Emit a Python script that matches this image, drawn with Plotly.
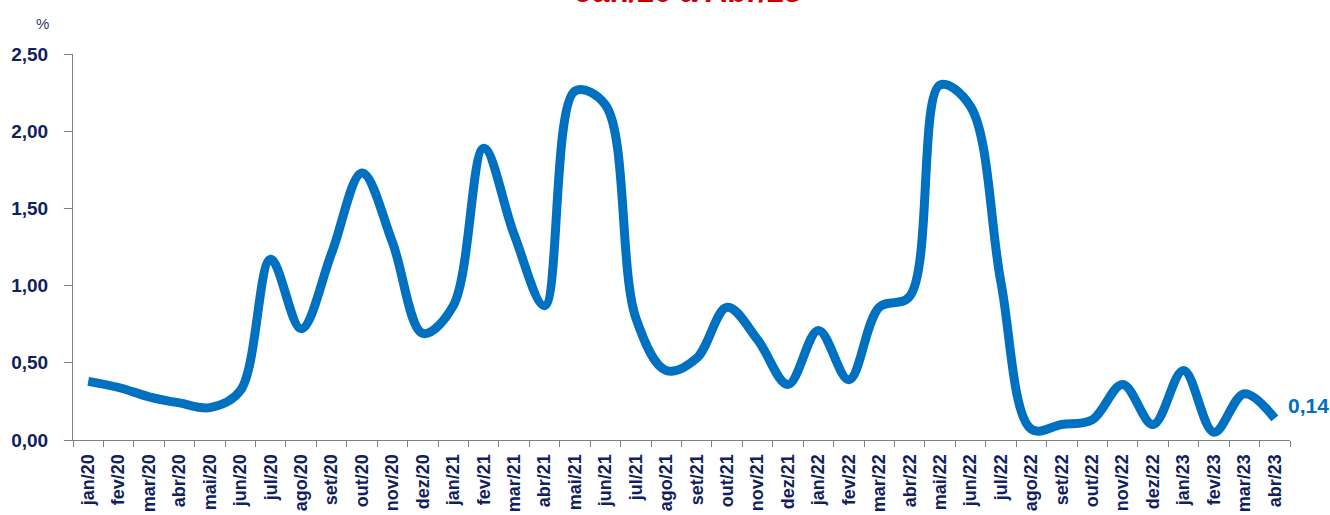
import plotly.graph_objects as go

months = ["jan/20", "fev/20", "mar/20", "abr/20", "mai/20", "jun/20", "jul/20", "ago/20",
          "set/20", "out/20", "nov/20", "dez/20", "jan/21", "fev/21", "mar/21", "abr/21",
          "mai/21", "jun/21", "jul/21", "ago/21", "set/21", "out/21", "nov/21", "dez/21",
          "jan/22", "fev/22", "mar/22", "abr/22", "mai/22", "jun/22", "jul/22", "ago/22",
          "set/22", "out/22", "nov/22", "dez/22", "jan/23", "fev/23", "mar/23", "abr/23"]
values = [0.38, 0.34, 0.28, 0.24, 0.21, 0.32, 1.17, 0.72,
          1.21, 1.73, 1.28, 0.69, 0.87, 1.89, 1.33, 0.87,
          2.26, 2.17, 0.79, 0.45, 0.53, 0.86, 0.65, 0.36,
          0.71, 0.39, 0.86, 0.93, 2.30, 2.16, 1.02, 0.07,
          0.10, 0.13, 0.36, 0.10, 0.45, 0.05, 0.30, 0.14]
y_ticks = [0, 0.5, 1.0, 1.5, 2.0, 2.5]
y_tick_text = ["0,00", "0,50", "1,00", "1,50", "2,00", "2,50"]
title_text = "Jan/20 a Abr/23"
last_label = "0,14"

navy = "#0f2160"
blue = "#0070c0"
font = "Liberation Sans, Arial, sans-serif"

fig = go.Figure()
fig.add_trace(go.Scatter(
    x=months, y=values, mode="lines",
    line=dict(color=blue, width=9, shape="spline", smoothing=1.0),
    hoverinfo="skip", showlegend=False,
))

fig.add_annotation(x=months[-1], y=values[-1], text=f"<b>{last_label}</b>",
                   showarrow=False, xanchor="left", yanchor="middle",
                   xshift=11, yshift=13,
                   font=dict(family=font, size=21, color=blue))
fig.add_annotation(xref="paper", yref="paper", x=0.505, y=1.112,
                   xanchor="center", yanchor="bottom",
                   text=f"<b>{title_text}</b>", showarrow=False,
                   font=dict(family=font, size=31, color="#cc0000"))
fig.add_annotation(xref="paper", yref="paper", x=-0.025, y=1.078,
                   xanchor="center", yanchor="middle",
                   text="%", showarrow=False,
                   font=dict(family=font, size=15, color="#2a3a6a"))

fig.update_layout(
    width=1330, height=515,
    margin=dict(l=73, r=40, t=54, b=75, autoexpand=False),
    paper_bgcolor="white", plot_bgcolor="white",
    font=dict(family=font, color=navy),
)
fig.update_xaxes(
    type="category", range=[-0.5, len(months) - 0.5], automargin=False,
    tickangle=-90, tickson="boundaries",
    ticks="outside", ticklen=6, tickcolor="#808080",
    ticklabelstandoff=6,
    showline=True, linecolor="#808080", linewidth=1,
    showgrid=False, zeroline=False,
    tickfont=dict(family=font, size=18, color=navy),
    tickprefix="<b>", ticksuffix="</b>",
)
fig.update_yaxes(
    range=[0, 2.5], tickvals=y_ticks, ticktext=[f"<b>{t}</b>" for t in y_tick_text],
    automargin=False,
    ticks="outside", ticklen=8, tickcolor="#808080",
    ticklabelstandoff=12,
    showline=True, linecolor="#808080", linewidth=1,
    showgrid=False, zeroline=False,
    tickfont=dict(family=font, size=19, color=navy),
)

fig.write_html("out.html")
